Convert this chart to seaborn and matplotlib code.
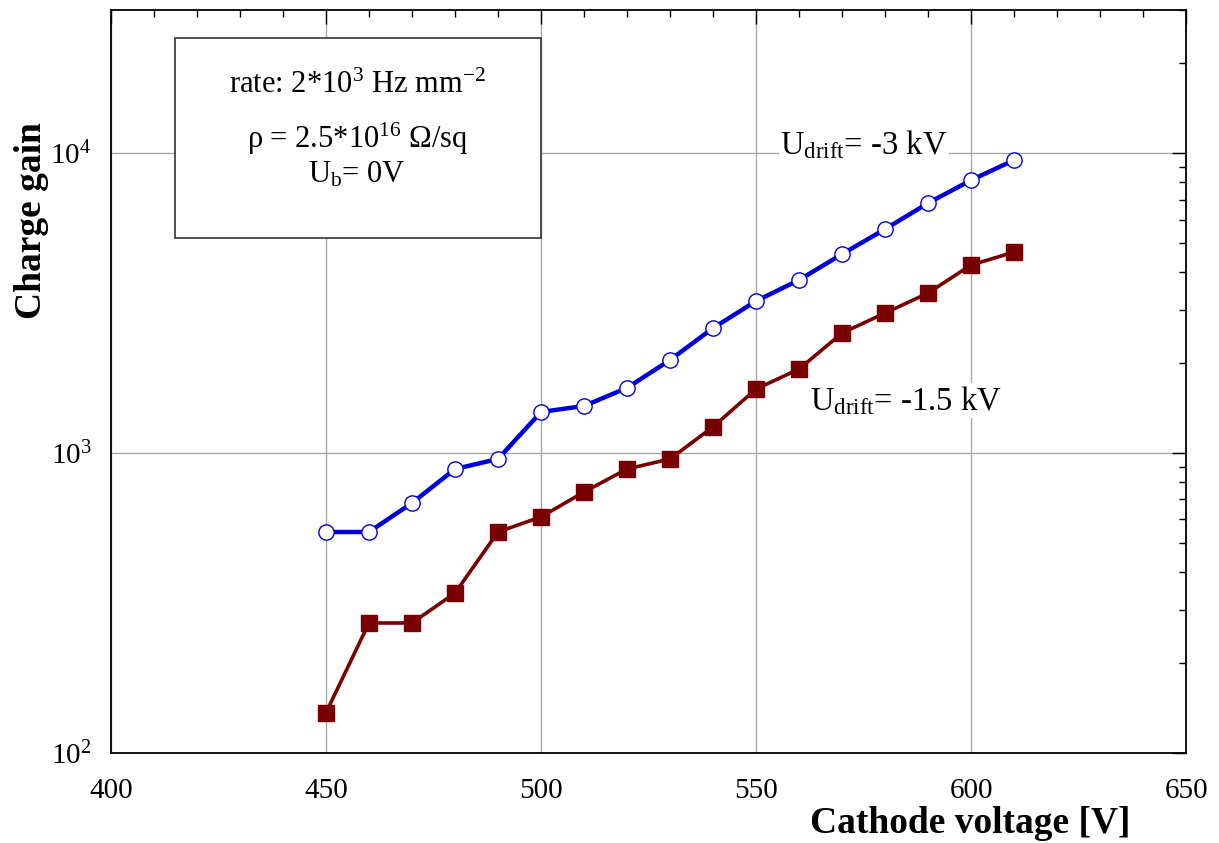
import numpy as np
import pandas as pd
import matplotlib
matplotlib.use("Agg")
import matplotlib.pyplot as plt
import seaborn as sns
from matplotlib.patches import Rectangle
from matplotlib.ticker import FixedLocator, LogLocator, NullFormatter, MultipleLocator

# cathode voltage [V]
voltage = [450, 460, 470, 480, 490, 500, 510, 520, 530, 540, 550, 560, 570, 580, 590, 600, 610]

# charge gain, U_drift = -3 kV (open circles)
gain_3kv = [545, 545, 681, 884, 955, 1370, 1435, 1648, 2042, 2610, 3211, 3776, 4606, 5580, 6813, 8128, 9480]

# charge gain, U_drift = -1.5 kV (filled squares)
gain_15kv = [136, 271, 271, 341, 545, 612, 741, 884, 955, 1222, 1634, 1905, 2512, 2929, 3415, 4236, 4677]

x_ticks = [400, 450, 500, 550, 600, 650]
y_ticks = [1e2, 1e3, 1e4]
y_tick_labels = ["$10^{2}$", "$10^{3}$", "$10^{4}$"]

BLUE = "#0000d8"
DARK_RED = "#780000"

sns.set_theme(style="white")
plt.rcParams["font.family"] = ["Liberation Serif", "DejaVu Serif"]
plt.rcParams["mathtext.fontset"] = "custom"
plt.rcParams["mathtext.rm"] = "Liberation Serif"
plt.rcParams["mathtext.it"] = "Liberation Serif:italic"
plt.rcParams["mathtext.bf"] = "Liberation Serif:bold"
for key in ["text.color", "axes.labelcolor", "xtick.color", "ytick.color"]:
    plt.rcParams[key] = "black"

df = pd.DataFrame({"voltage": voltage, "gain_3kv": gain_3kv, "gain_15kv": gain_15kv})

fig, ax = plt.subplots(figsize=(12.19, 8.43), dpi=100)
fig.subplots_adjust(left=0.091, right=0.973, top=0.988, bottom=0.107)

sns.lineplot(
    data=df, x="voltage", y="gain_3kv", ax=ax,
    color=BLUE, linewidth=3.2, marker="o", markersize=11,
    markerfacecolor="white", markeredgecolor=BLUE, markeredgewidth=1.0,
    zorder=4,
)
sns.lineplot(
    data=df, x="voltage", y="gain_15kv", ax=ax,
    color=DARK_RED, linewidth=2.6, marker="s", markersize=11,
    markerfacecolor=DARK_RED, markeredgecolor=DARK_RED, markeredgewidth=1.0,
    zorder=3,
)

ax.set_yscale("log")
ax.set_xlim(400, 650)
ax.set_ylim(100, 30000)

ax.xaxis.set_major_locator(FixedLocator(x_ticks))
ax.xaxis.set_minor_locator(MultipleLocator(10))
ax.yaxis.set_major_locator(FixedLocator(y_ticks))
ax.yaxis.set_minor_locator(LogLocator(base=10, subs=np.arange(2, 10)))
ax.yaxis.set_minor_formatter(NullFormatter())
ax.set_xticklabels([str(v) for v in x_ticks])
ax.set_yticklabels(y_tick_labels)

ax.grid(True, which="major", color="#a8a8a8", linewidth=1.0)
ax.set_axisbelow(True)
ax.tick_params(which="both", direction="in", top=True, right=True, colors="black", width=1.0)
ax.tick_params(which="major", length=10, labelsize=21)
ax.tick_params(axis="x", which="major", pad=18)
ax.tick_params(axis="y", which="major", pad=14)
ax.tick_params(which="minor", length=5)
for spine in ax.spines.values():
    spine.set_color("black")
    spine.set_linewidth(1.3)

ax.set_xlabel("Cathode voltage [V]", fontsize=27, fontweight="bold")
ax.set_ylabel("Charge gain", fontsize=27, fontweight="bold")
ax.xaxis.set_label_coords(0.799, -0.072)
ax.yaxis.set_label_coords(-0.058, 0.717)

# info box
ax.add_patch(Rectangle((0.0595, 0.693), 0.3405, 0.269, transform=ax.transAxes,
                       facecolor="white", edgecolor="#333333", linewidth=1.2, zorder=5))
ax.text(0.229, 0.888, "rate: 2*10$^{3}$ Hz mm$^{-2}$", transform=ax.transAxes,
        ha="center", va="baseline", fontsize=22, zorder=6)
ax.text(0.229, 0.814, "ρ = 2.5*10$^{16}$ Ω/sq", transform=ax.transAxes,
        ha="center", va="baseline", fontsize=22, zorder=6)
ax.text(0.229, 0.768, "U$_{\\mathrm{b}}$= 0V", transform=ax.transAxes,
        ha="center", va="baseline", fontsize=22, zorder=6)

# curve labels
ax.text(555.6, 9900, "U$_{\\mathrm{drift}}$= -3 kV", ha="left", va="baseline", fontsize=23.5,
        zorder=2, bbox=dict(facecolor="white", edgecolor="none", pad=1))
ax.text(562.6, 1391, "U$_{\\mathrm{drift}}$= -1.5 kV", ha="left", va="baseline", fontsize=23.5,
        zorder=2, bbox=dict(facecolor="white", edgecolor="none", pad=1))

fig.savefig("out.png", dpi=100)
